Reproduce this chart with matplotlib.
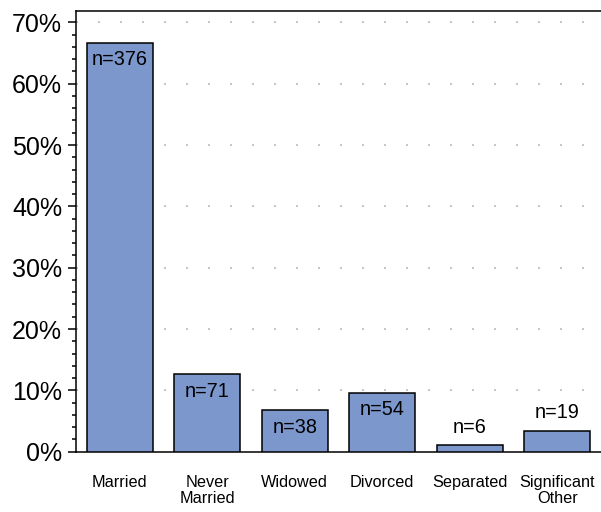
import numpy as np
import matplotlib.pyplot as plt
from matplotlib.ticker import MultipleLocator, FuncFormatter

plt.rcParams['font.family'] = ['Liberation Sans', 'DejaVu Sans']

# data
categories = ["Married", "Never\nMarried", "Widowed", "Divorced", "Separated", "Significant\nOther"]
counts = [376, 71, 38, 54, 6, 19]

total = sum(counts)
pct = [c / total * 100 for c in counts]
x = np.arange(len(categories))

fig = plt.figure(figsize=(6.01, 5.12), dpi=100)
ax = fig.add_axes([0.1265, 0.1178, 0.8735, 0.8613])

ax.bar(x, pct, width=0.75, color="#7b97cc", edgecolor="black", linewidth=1.1, zorder=3)

# n labels: inside the bar if tall enough, else above
for xi, p, c in zip(x, pct, counts):
    if p > 5:
        ax.annotate(f"n={c}", (xi, p), xytext=(0, -12), textcoords="offset points",
                    ha="center", va="center", fontsize=14.3, zorder=4)
    else:
        ax.annotate(f"n={c}", (xi, p), xytext=(0, 13), textcoords="offset points",
                    ha="center", va="center", fontsize=14.3, zorder=4)

ax.set_xlim(-0.5, 5.5)
ax.set_ylim(0, 71.9)
ax.set_xticks(x)
ax.set_xticklabels(categories, fontsize=11.7, linespacing=1.1)
ax.tick_params(axis="x", length=0, pad=17)

ax.yaxis.set_major_locator(MultipleLocator(10))
ax.yaxis.set_minor_locator(MultipleLocator(2))
ax.yaxis.set_major_formatter(FuncFormatter(lambda v, pos: f"{v:.0f}%"))
ax.tick_params(axis="y", which="major", length=6, width=1.1, labelsize=18, pad=4)
ax.tick_params(axis="y", which="minor", length=3, width=1.1)

# dotted grid
for v in range(10, 80, 10):
    ax.axhline(v, color="#bbbbbb", linewidth=1.2, dashes=(1.2, 12), zorder=1)

for s in ["left", "bottom", "top"]:
    ax.spines[s].set_linewidth(1.1)
ax.spines["right"].set_visible(False)

fig.savefig("out.png", dpi=100)
